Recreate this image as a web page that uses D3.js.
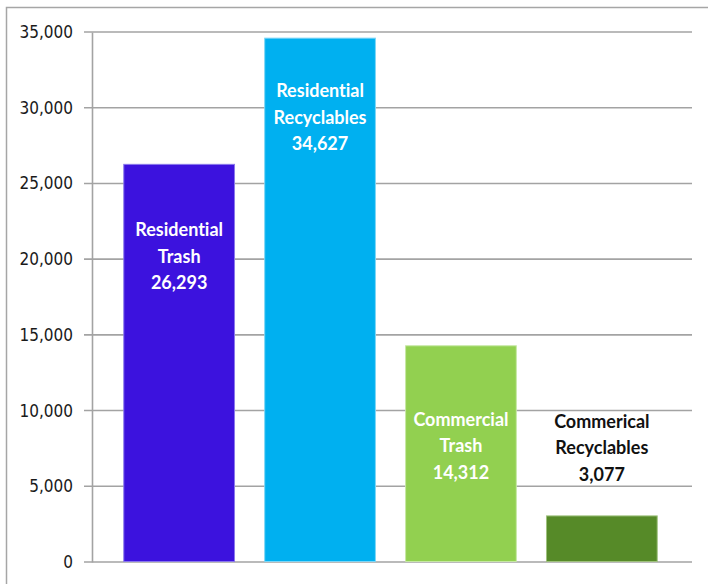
<!DOCTYPE html>
<html>
<head>
<meta charset="utf-8">
<script src="https://cdn.jsdelivr.net/npm/d3@7"></script>
<style>
  body { margin: 0; background: #fff; }
  svg { display: block; }
  text { font-variant-ligatures: none; }
</style>
</head>
<body>
<div id="chart"></div>
<script>
// Waste tonnage by stream
const categories = ["Residential Trash", "Residential Recyclables", "Commercial Trash", "Commerical Recyclables"];
const labelLines = [["Residential", "Trash"], ["Residential", "Recyclables"], ["Commercial", "Trash"], ["Commerical", "Recyclables"]];
const values = [26293, 34627, 14312, 3077];
const yTicks = [0, 5000, 10000, 15000, 20000, 25000, 30000, 35000];

const W = 708, H = 584;
const margin = {top: 32, right: 16, bottom: 22, left: 92};
const colors = ["#3c12de", "#00b0f0", "#92d050", "#568a28"];
const edges = ["#8a78ec", "#7fd6f6", "#c6e8a4", "#9fc17e"];
const textColors = ["#fff", "#fff", "#fff", "#111"];
// vertical offset of the middle label line's baseline from the bar top
const labelDy = [99, 86, 107, -61];

const svg = d3.select("#chart").append("svg").attr("width", W).attr("height", H);

// outer frame
svg.append("rect").attr("x", 6.5).attr("y", 7.5).attr("width", W).attr("height", H)
  .attr("fill", "none").attr("stroke", "#a6a6a6").attr("stroke-width", 1.5);

const x = d3.scaleBand().domain(categories)
  .range([margin.left, W - margin.right - 3]).paddingInner(0.207).paddingOuter(0.222);
const y = d3.scaleLinear().domain([0, 35000]).range([H - margin.bottom, margin.top]);

// gridlines
svg.append("g").selectAll("line").data(yTicks).join("line")
  .attr("x1", margin.left - 8).attr("x2", W - margin.right)
  .attr("y1", d => y(d)).attr("y2", d => y(d))
  .attr("stroke", "#a3a3a3").attr("stroke-width", 1.6);

// y axis
const yAxis = svg.append("g").attr("transform", `translate(${margin.left},0)`)
  .call(d3.axisLeft(y).tickValues(yTicks).tickFormat(d3.format(",")).tickSize(0).tickPadding(19));
yAxis.select(".domain").attr("stroke", "#a3a3a3").attr("stroke-width", 1.6);
yAxis.selectAll("text")
  .style("font-family", "'DejaVu Sans Condensed', 'DejaVu Sans', sans-serif")
  .style("font-stretch", "condensed")
  .style("font-size", "17px").attr("fill", "#1a1a1a");

// bars
svg.append("g").selectAll("rect").data(values).join("rect")
  .attr("x", (d, i) => x(categories[i]) + 0.5)
  .attr("y", d => y(d) + 0.5)
  .attr("width", x.bandwidth() - 1)
  .attr("height", d => y(0) - y(d) - 1)
  .attr("fill", (d, i) => colors[i])
  .attr("stroke", (d, i) => edges[i]).attr("stroke-width", 1);

// data labels
const lh = 26.5;
const labels = svg.append("g").selectAll("text").data(values).join("text")
  .attr("text-anchor", "middle")
  .style("font-family", "Lato, 'Open Sans', sans-serif")
  .style("font-weight", "bold").style("font-size", "18px")
  .attr("fill", (d, i) => textColors[i]);
labels.each(function(d, i) {
  const cx = x(categories[i]) + x.bandwidth() / 2;
  const mid = y(d) + labelDy[i];
  const lines = [...labelLines[i], d3.format(",")(d)];
  d3.select(this).selectAll("tspan").data(lines).join("tspan")
    .attr("x", cx).attr("y", (t, k) => mid + (k - 1) * lh).text(t => t);
});
</script>
</body>
</html>
